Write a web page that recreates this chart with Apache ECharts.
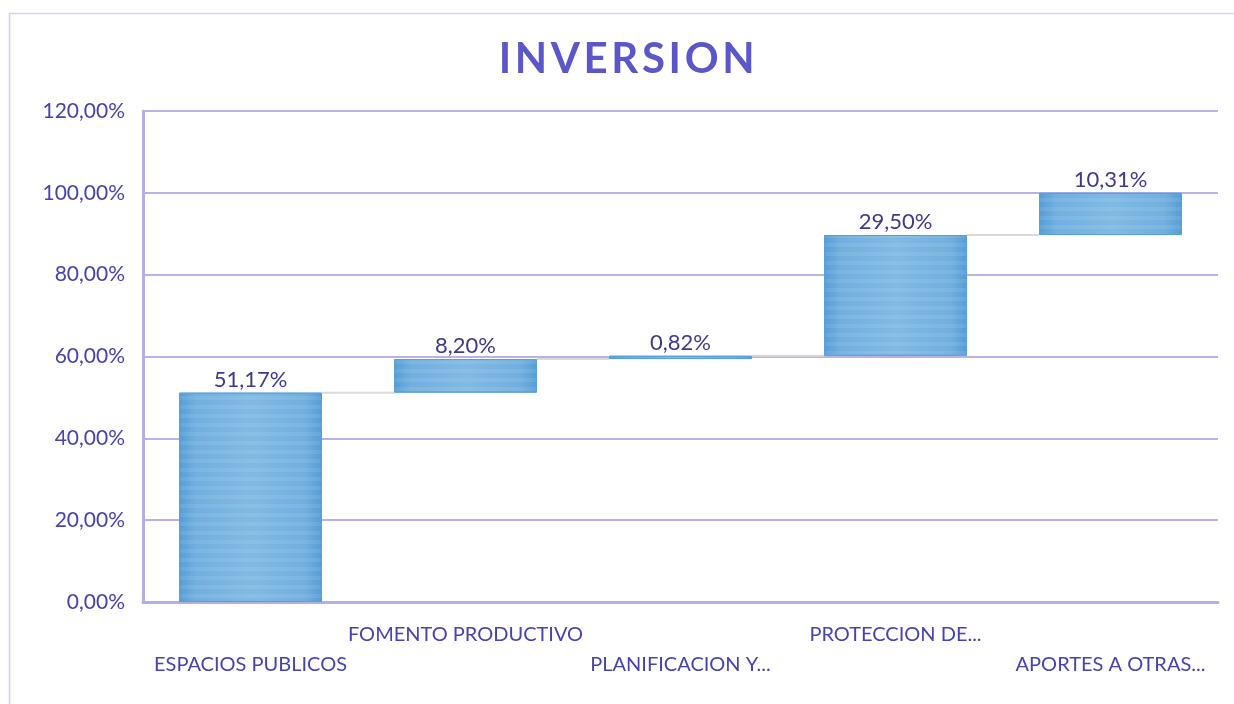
<!DOCTYPE html>
<html>
<head>
<meta charset="utf-8">
<script src="https://cdn.jsdelivr.net/npm/echarts@6/dist/echarts.min.js"></script>
<style>
html,body{margin:0;padding:0;background:#fff;}
#c{width:1234px;height:704px;}
</style>
</head>
<body>
<div id="c"></div>
<script>
const categories = ['ESPACIOS PUBLICOS', 'FOMENTO PRODUCTIVO', 'PLANIFICACION Y...', 'PROTECCION DE...', 'APORTES A OTRAS...'];
const values = [51.17, 8.20, 0.82, 29.50, 10.31];
const yTicks = { min: 0, max: 120, interval: 20 };
const titleText = 'INVERSION';

const bases = [];
let acc = 0;
for (const v of values) { bases.push(+acc.toFixed(2)); acc += v; }
const cumul = values.map((v, i) => +(bases[i] + v).toFixed(2));

const fmtPct = v => v.toFixed(2).replace('.', ',') + '%';
const labelColor = '#4743ad';
const fontFam = 'Lato, "Open Sans", sans-serif';

const chart = echarts.init(document.getElementById('c'));
const barWidthRatio = 0.665;

chart.setOption({
  animation: false,
  backgroundColor: '#ffffff',
  graphic: [{
    type: 'rect', shape: { x: 9.5, y: 13.5, width: 1260, height: 720 },
    style: { fill: 'none', stroke: '#d3d0f2', lineWidth: 1.5 }, silent: true, z: -10
  }],
  title: {
    text: titleText.split('').map(ch => '{s|' + ch + '}').join(''), left: 497, top: 38, padding: 0,
    textStyle: {
      fontFamily: fontFam, fontSize: 42, fontWeight: 'bold', color: '#5b56c9',
      rich: { s: { fontFamily: fontFam, fontSize: 42, fontWeight: 'bold', color: '#5b56c9', padding: [0, 1.8] } }
    }
  },
  grid: { left: 143, right: 16, top: 111, bottom: 102 },
  xAxis: {
    type: 'category', data: categories,
    axisLine: { lineStyle: { color: '#b2aee6', width: 3 } },
    axisTick: { show: false },
    axisLabel: {
      interval: 0, margin: 18, color: labelColor, fontFamily: fontFam, fontSize: 20, lineHeight: 30,
      formatter: (v, i) => (i % 2 === 0 ? '\n' + v : v)
    }
  },
  yAxis: {
    type: 'value', min: yTicks.min, max: yTicks.max, interval: yTicks.interval,
    axisLine: { show: true, lineStyle: { color: '#b2aee6', width: 3 } },
    axisTick: { show: false },
    splitLine: { lineStyle: { color: '#b7b3ea', width: 2 } },
    axisLabel: { margin: 18, color: labelColor, fontFamily: fontFam, fontSize: 21, formatter: v => fmtPct(v) }
  },
  series: [
    {
      type: 'custom', name: 'conn', z: 1,
      data: cumul.slice(0, -1).map((c, i) => [i, c]),
      renderItem: (params, api) => {
        const i = api.value(0), c = api.value(1);
        const p1 = api.coord([i, c]);
        const p2 = api.coord([i + 1, c]);
        const bw = api.size([1, 0])[0] * barWidthRatio;
        return {
          type: 'line',
          shape: { x1: p1[0] + bw / 2, y1: p1[1], x2: p2[0] - bw / 2, y2: p2[1] },
          style: { stroke: '#d9d9d9', lineWidth: 2 }
        };
      }
    },
    {
      type: 'bar', stack: 'w', data: bases, barWidth: (barWidthRatio * 100) + '%',
      itemStyle: { color: 'rgba(0,0,0,0)' }, silent: true, z: 2
    },
    {
      type: 'bar', stack: 'w', data: values, z: 3,
      itemStyle: {
        color: new echarts.graphic.LinearGradient(0, 0, 1, 0, [
          { offset: 0, color: '#559dd5' },
          { offset: 0.12, color: '#72afdf' },
          { offset: 0.5, color: '#80bae4' },
          { offset: 0.88, color: '#72afdf' },
          { offset: 1, color: '#559dd5' }
        ]),
        borderColor: '#5aa0d6', borderWidth: 1,
        decal: { symbol: 'rect', symbolSize: 1, dashArrayX: [1, 0], dashArrayY: [4, 5], rotation: 0, color: 'rgba(255,255,255,0.08)' }
      },
      label: {
        show: true, position: 'top', distance: 2, color: '#3d3a8c', fontFamily: fontFam, fontSize: 22,
        formatter: p => fmtPct(p.value)
      }
    }
  ]
});
</script>
</body>
</html>
